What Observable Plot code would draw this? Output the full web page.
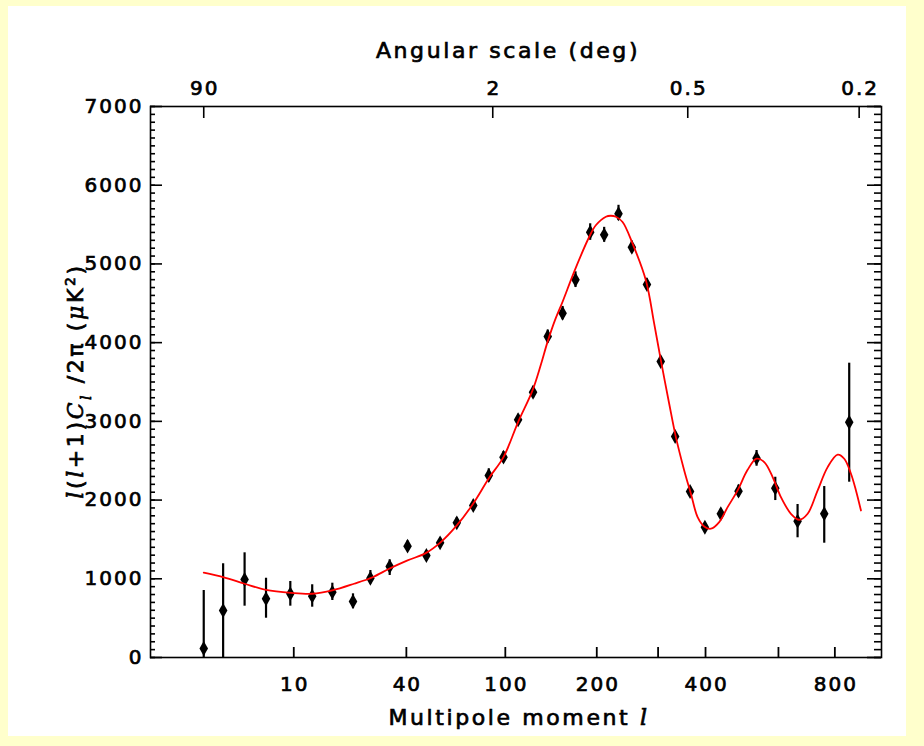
<!DOCTYPE html>
<html><head><meta charset="utf-8">
<script src="https://cdn.jsdelivr.net/npm/d3@7"></script>
<script src="https://cdn.jsdelivr.net/npm/@observablehq/plot@0.6"></script>
<style>
html,body{margin:0;padding:0;background:#ffffcc;width:924px;height:746px;overflow:hidden;}
#wrap{position:absolute;left:8px;top:6px;width:898px;height:730px;background:#fff;}
#wrap svg text{stroke:#000;stroke-width:0.7px;}
</style></head><body><div id="wrap"></div>
<script>
// Multipole bins (l), band power values and error bar ends (μK²)
const ells = [2, 3, 4.5, 6.5, 9.5, 13, 17, 22, 27, 33.5, 40.5, 49, 56, 65.5, 76, 87, 98.5, 111, 125, 140, 156.5, 172, 191, 210.5, 232, 253.5, 279.5, 305, 333.5, 365, 398.5, 437, 483, 533.5, 590, 663, 759, 858];
const vals = [114, 597, 991, 746, 809, 779, 830, 711, 1007, 1156, 1414, 1296, 1457, 1711, 1931, 2312, 2545, 3020, 3370, 4078, 4374, 4798, 5403, 5370, 5637, 5212, 4739, 3760, 2808, 2109, 1655, 1826, 2113, 2532, 2151, 1732, 1826, 2989];
const errHi = [851, 1191, 1330, 1007, 966, 924, 944, 809, 1105, 1241, 1480, 1356, 1517, 1776, 1996, 2397, 2615, 3090, 3445, 4160, 4460, 4900, 5510, 5465, 5745, 5290, 4810, 3820, 2865, 2170, 1705, 1885, 2190, 2630, 2290, 1944, 2172, 3739];
const errLo = [0, 0, 652, 499, 652, 639, 724, 619, 936, 1042, 1350, 1236, 1397, 1646, 1866, 2232, 2475, 2950, 3295, 3995, 4290, 4700, 5300, 5275, 5550, 5135, 4670, 3700, 2750, 2050, 1605, 1770, 2040, 2430, 1994, 1521, 1452, 2227];

// Model curve
const curveL = [2.0, 3, 4.5, 6.5, 9.6, 13, 17, 22.3, 27.7, 33.3, 40.5, 48.7, 56.4, 65.5, 75.9, 87.3, 98.5, 111, 124.5, 132.8, 139.8, 148, 156.5, 170.3, 189.6, 198.7, 213, 220, 227.9, 238.4, 254.7, 277.6, 292.7, 305.3, 321.5, 335, 352.4, 366.9, 381.8, 396.9, 412.8, 433, 454.3, 480.6, 508, 533.7, 556.2, 581.8, 607.9, 640.6, 668.7, 698.1, 734.4, 772, 811.1, 837.6, 865.3, 886.3, 907.8];
const curveV = [1077, 1021, 937, 860, 822, 810, 852, 937, 1020, 1127, 1233, 1326, 1466, 1678, 1954, 2284, 2546, 2991, 3394, 3720, 4010, 4290, 4520, 4900, 5342, 5491, 5600, 5612, 5600, 5533, 5258, 4792, 4241, 3775, 3224, 2800, 2377, 2080, 1783, 1665, 1636, 1720, 1910, 2123, 2385, 2525, 2482, 2292, 2037, 1826, 1750, 1826, 2123, 2419, 2577, 2525, 2335, 2123, 1868];

// Axis ticks
const xTickLabels = [10, 40, 100, 200, 400, 800];
const xMinorTicks = [300, 600];
const angLabels = [90, 2, 0.5, 0.2]; // degrees, l = 180/deg
const yTickLabels = [0, 1000, 2000, 3000, 4000, 5000, 6000, 7000];
const yMinorTicks = d3.range(0, 7001, 100);

const points = ells.map((l, i) => ({l, v: vals[i], lo: errLo[i], hi: errHi[i]}));
const curve = curveL.map((l, i) => ({l, v: curveV[i]}));
const angTicks = angLabels.map(a => ({l: 180 / a, a}));

const W = 898, H = 730, mL = 142, mR = 25, mT = 100, mB = 79;
const plotW = W - mL - mR, plotH = H - mT - mB;
const FONT = "DejaVu Sans";

const chart = Plot.plot({
  width: W, height: H,
  marginLeft: mL, marginRight: mR, marginTop: mT, marginBottom: mB,
  style: {background: "white", fontFamily: FONT, fontSize: "20px", color: "black", overflow: "visible", letterSpacing: "2px"},
  x: {type: "pow", exponent: 0.25, domain: [0.5, 1000]},
  y: {domain: [0, 7000]},
  marks: [
    // ticks, inward
    Plot.tickY(yMinorTicks, {y: d => d, insetRight: plotW - 5, stroke: "black", strokeWidth: 1.6}),
    Plot.tickY(yTickLabels, {y: d => d, insetRight: plotW - 12, stroke: "black", strokeWidth: 1.6}),
    Plot.tickY(yMinorTicks, {y: d => d, insetLeft: plotW - 7, stroke: "black", strokeWidth: 1.6}),
    Plot.tickY(yTickLabels, {y: d => d, insetLeft: plotW - 14, stroke: "black", strokeWidth: 1.6}),
    Plot.tickX(xTickLabels.concat(xMinorTicks), {x: d => d, insetTop: plotH - 10, stroke: "black", strokeWidth: 1.8}),
    Plot.tickX(angTicks, {x: "l", insetBottom: plotH - 12, stroke: "black", strokeWidth: 1.6}),
    Plot.frame({stroke: "black", strokeWidth: 1.6}),
    // axis labels
    Plot.axisX(xTickLabels, {anchor: "bottom", tickSize: 0, tickPadding: 19, tickFormat: d => String(d), label: null, fontSize: 20, dx: 1}),
    Plot.axisX(angTicks.map(d => d.l), {anchor: "top", tickSize: 0, tickPadding: 12, tickFormat: l => String(angTicks.find(d => d.l === l).a), label: null, fontSize: 20, dx: 1}),
    Plot.axisY(yTickLabels, {anchor: "left", tickSize: 0, tickPadding: 7, tickFormat: d => String(d), label: null, fontSize: 20}),
    // data
    Plot.ruleX(points, {x: "l", y1: "lo", y2: "hi", stroke: "black", strokeWidth: 2.2, clip: true}),
    Plot.dot(points, {x: "l", y: "v", symbol: "diamond", r: 4.5, fill: "black", stroke: "none"}),
    Plot.line(curve, {x: "l", y: "v", stroke: "#ff0000", strokeWidth: 1.8, curve: "catmull-rom"})
  ]
});

document.getElementById("wrap").appendChild(chart);

const svg = d3.select(chart);
svg.append("text")
  .attr("x", 500).attr("y", 44).attr("dy", "0.35em")
  .attr("text-anchor", "middle").attr("font-family", FONT).attr("font-size", 22).attr("letter-spacing", "2.6px")
  .text("Angular scale (deg)");

const xl = svg.append("text")
  .attr("x", 511).attr("y", 711).attr("dy", "0.35em")
  .attr("text-anchor", "middle").attr("font-family", FONT).attr("font-size", 22).attr("letter-spacing", "2.6px");
xl.append("tspan").text("Multipole moment ");
xl.append("tspan").attr("font-style", "italic").attr("font-family", "DejaVu Serif").text("l");

const yl = svg.append("text")
  .attr("transform", "translate(67,375) rotate(-90)").attr("dy", "0.35em")
  .attr("text-anchor", "middle").attr("font-family", FONT).attr("font-size", 22).attr("letter-spacing", "2.6px");
const parts = [["l", "i"], ["(", ""], ["l", "i"], ["+1)", ""], ["C", "i"], ["l", "sub"], [" /2π (", ""], ["μ", "i"], ["K", ""], ["2", "sup"], [")", ""]];
for (const [t, k] of parts) {
  const s = yl.append("tspan").text(t);
  if (k === "i") s.attr("font-style", "italic").attr("font-family", "DejaVu Serif");
  if (k === "sub") s.attr("font-style", "italic").attr("font-family", "DejaVu Serif").attr("font-size", 14).attr("baseline-shift", "sub");
  if (k === "sup") s.attr("font-size", 14).attr("baseline-shift", "super");
}
</script></body></html>
